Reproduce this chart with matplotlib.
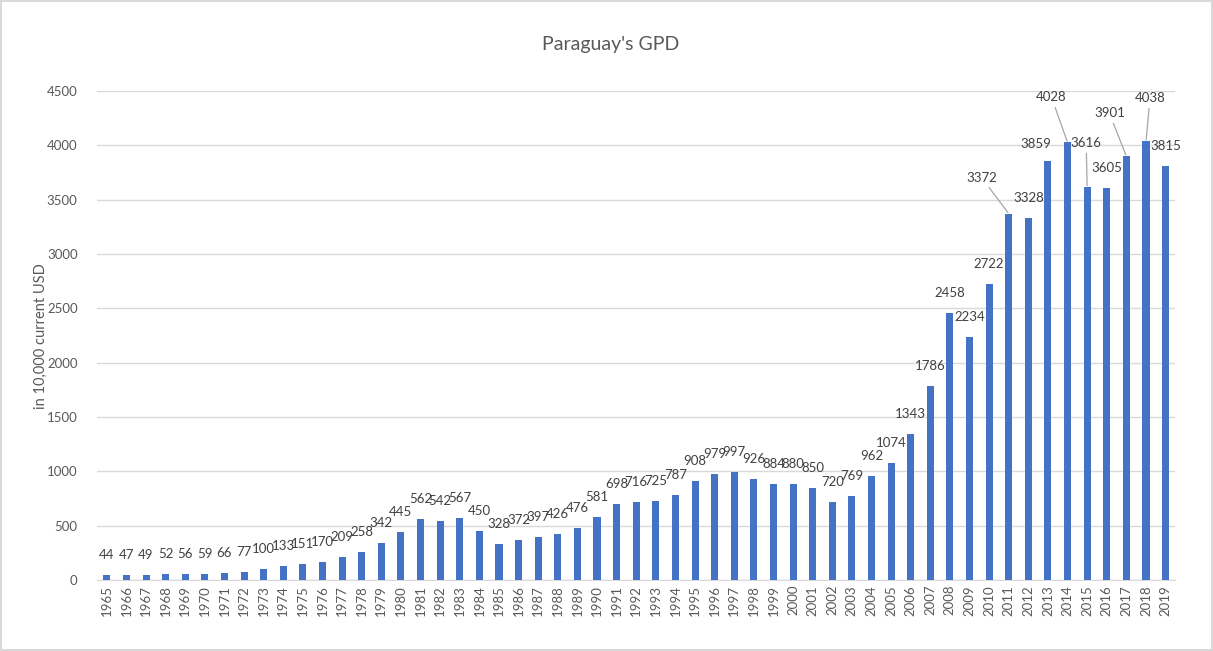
import numpy as np
import matplotlib
matplotlib.use("Agg")
import matplotlib.pyplot as plt

plt.rcParams['font.family'] = ['Lato', 'DejaVu Sans']

years = list(range(1965, 2020))
gdp = [44, 47, 49, 52, 56, 59, 66, 77, 100, 133,
       151, 170, 209, 258, 342, 445, 562, 542, 567, 450,
       328, 372, 397, 426, 476, 581, 698, 716, 725, 787,
       908, 979, 997, 926, 884, 880, 850, 720, 769, 962,
       1074, 1343, 1786, 2458, 2234, 2722, 3372, 3328, 3859, 4028,
       3616, 3605, 3901, 4038, 3815]

# labels that were moved by hand in the original (pixel offsets from bar top)
moved = {2011: (-27, 36), 2013: (-12, 17), 2014: (-16, 45),
         2015: (-1, 44), 2017: (-17, 43), 2018: (4, 43)}
with_leader = [2011, 2014, 2015, 2017, 2018]

fig = plt.figure(figsize=(12.13, 6.51), dpi=100)
fig.patch.set_edgecolor('#d9d9d9')
fig.patch.set_linewidth(1.5)
ax = fig.add_axes([0.080, 0.109, 0.889, 0.751])

x = np.arange(len(years))
ax.bar(x, gdp, width=0.36, color='#4472C4', zorder=3)

for i, (yr, v) in enumerate(zip(years, gdp)):
    dx, dy = moved.get(yr, (0, 20))
    props = dict(arrowstyle='-', color='#a6a6a6', lw=0.9, shrinkA=1, shrinkB=1) if yr in with_leader else None
    ax.annotate(str(v), xy=(i, v), xytext=(dx, dy), textcoords='offset pixels',
                ha='center', va='center', fontsize=9.5, color='#404040',
                arrowprops=props, zorder=4)

ax.set_xlim(-0.5, len(years) - 0.5)
ax.set_ylim(0, 4500)
ax.set_yticks(np.arange(0, 4501, 500))
ax.set_xticks(x)
ax.set_xticklabels([str(y) for y in years], rotation=90)
ax.tick_params(axis='both', length=0, labelsize=9.5, labelcolor='#595959')
ax.tick_params(axis='y', pad=14)
ax.yaxis.grid(True, color='#d9d9d9', lw=1, zorder=0)
for s in ['top', 'right', 'left']:
    ax.spines[s].set_visible(False)
ax.spines['bottom'].set_color('#d9d9d9')

ax.set_ylabel('in 10,000 current USD', fontsize=10.5, color='#595959')
ax.yaxis.set_label_coords(-0.046, 0.5)
fig.text(0.503, 0.931, "Paraguay's GPD", ha='center', va='center', fontsize=14, color='#595959')

fig.savefig('out.png', dpi=100)
